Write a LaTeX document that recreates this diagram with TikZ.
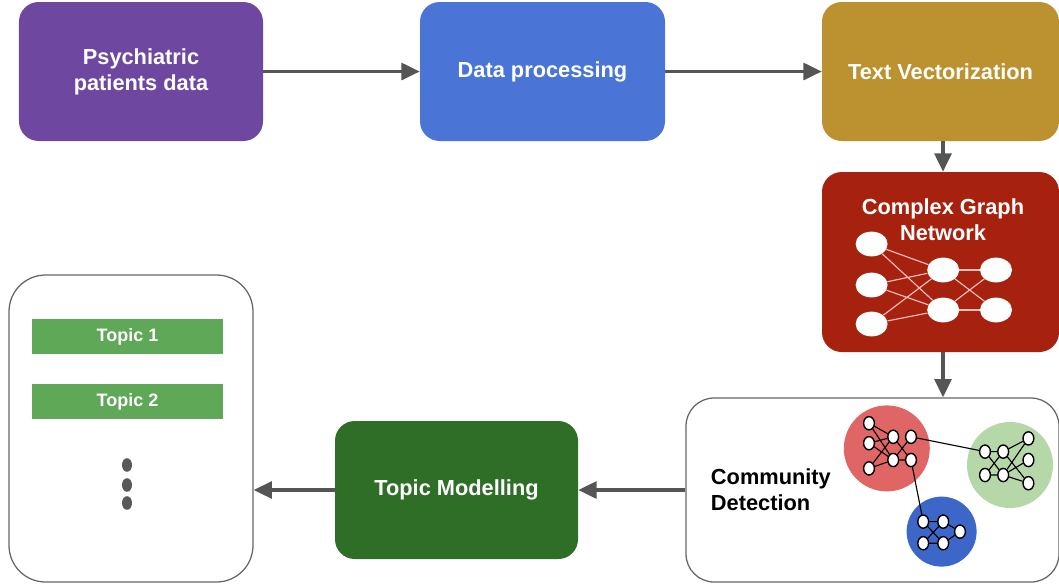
\documentclass[tikz,border=0pt]{standalone}
\usepackage{fontspec}
\setmainfont{Liberation Sans}
\usetikzlibrary{arrows.meta,shapes.geometric}

\definecolor{cpurple}{HTML}{6E47A0}
\definecolor{cblue}{HTML}{4A74D6}
\definecolor{cgold}{HTML}{BC9230}
\definecolor{cdarkred}{HTML}{A6220F}
\definecolor{cdarkgreen}{HTML}{2F6E27}
\definecolor{cbar}{HTML}{5EA857}
\definecolor{cred}{HTML}{E06666}
\definecolor{cgreen}{HTML}{B6D7A8}
\definecolor{cblue2}{HTML}{3C67C9}
\definecolor{carrow}{HTML}{555555}

\begin{document}
\begin{tikzpicture}[
  stagebox/.style={rounded corners=14pt, minimum height=3.475cm, text=white, align=center,
    font=\fontsize{15.5}{18.5}\selectfont\bfseries},
  framebox/.style={draw=black!60, line width=0.9pt, fill=white},
  flow/.style={carrow, line width=2.2pt, -{Triangle[length=13pt,width=12pt]}},
  bignode/.style={ellipse, fill=white, minimum width=0.8cm, minimum height=0.62cm, inner sep=0pt},
  bigedge/.style={draw=red!25!white, line width=0.8pt},
  dot/.style={ellipse, draw=black, line width=1pt, fill=white, minimum width=0.27cm, minimum height=0.33cm, inner sep=0pt},
  topicbar/.style={fill=cbar, minimum width=4.775cm, minimum height=0.875cm, text=white,
    font=\fontsize{12.8}{15}\selectfont\bfseries}
]
\useasboundingbox (0,0) rectangle (26.475,-14.65);
% top row
\node[stagebox, fill=cpurple, minimum width=6.1cm] (pd) at (3.525,-1.7875) {Psychiatric\\patients data};
\node[stagebox, fill=cblue, minimum width=6.125cm] (dp) at (13.5625,-1.7875) {Data processing};
\node[stagebox, fill=cgold, minimum width=5.925cm] (tv) at (23.5125,-1.7875) {Text Vectorization};
% graph network
\node[stagebox, fill=cdarkred, minimum width=5.925cm, minimum height=4.5cm] (cgn) at (23.5125,-6.55) {};
\node[text=white, align=center, font=\fontsize{15.5}{18.5}\selectfont\bfseries] (cgnt) at (23.575,-5.5) {Complex Graph\\Network};
\node[bignode] (l1) at (21.79,-6.1) {};
\node[bignode] (l2) at (21.79,-7.125) {};
\node[bignode] (l3) at (21.79,-8.1) {};
\node[bignode] (m1) at (23.58,-6.75) {};
\node[bignode] (m2) at (23.58,-7.75) {};
\node[bignode] (r1) at (24.9,-6.75) {};
\node[bignode] (r2) at (24.9,-7.75) {};
\foreach \a in {l1,l2,l3}
  \foreach \b in {m1,m2}
    \draw[bigedge] (\a) -- (\b);
\foreach \a in {m1,m2}
  \foreach \b in {r1,r2}
    \draw[bigedge] (\a) -- (\b);
% community detection
\node[framebox, rounded corners=20pt, minimum width=9.325cm, minimum height=4.6cm] (cd) at (21.8125,-12.25) {};
\node[anchor=west, align=left, font=\fontsize{15.5}{18.5}\selectfont\bfseries] (cdt) at (17.65,-12.25) {Community\\Detection};
\fill[cred] (22.17,-11.21) circle (1.075);
\fill[cgreen] (25.25,-11.625) circle (1.075);
\fill[cblue2] (23.54,-13.29) circle (0.875);
% red community
\node[dot] (a1) at (21.725,-10.58) {};
\node[dot] (a2) at (21.725,-11.08) {};
\node[dot] (a3) at (21.725,-11.71) {};
\node[dot] (b1) at (22.33,-10.92) {};
\node[dot] (b2) at (22.33,-11.5) {};
\node[dot] (c1) at (22.775,-10.92) {};
\node[dot] (c2) at (22.775,-11.5) {};
% green community
\node[dot] (g1) at (24.625,-11.29) {};
\node[dot] (g2) at (25.08,-11.29) {};
\node[dot] (g3) at (24.625,-11.875) {};
\node[dot] (g4) at (25.08,-11.875) {};
\node[dot] (g5) at (25.71,-10.96) {};
\node[dot] (g6) at (25.71,-11.5) {};
\node[dot] (g7) at (25.71,-12.08) {};
% blue community
\node[dot] (u1) at (23.08,-13.04) {};
\node[dot] (u2) at (23.58,-13.04) {};
\node[dot] (u3) at (23.08,-13.58) {};
\node[dot] (u4) at (23.58,-13.58) {};
\node[dot] (u5) at (24.0,-13.29) {};
\draw[line width=0.8pt] (a1) -- (b1) (a1) -- (b2) (a2) -- (b1) (a2) -- (b2) (a3) -- (b1) (a3) -- (b2)
  (b1) -- (c2) (b2) -- (c1) (b2) -- (c2)
  (g1) -- (g2) (g3) -- (g4) (g1) -- (g4) (g2) -- (g3) (g2) -- (g5) (g4) -- (g5) (g2) -- (g7) (g4) -- (g6) (g4) -- (g7)
  (u1) -- (u2) (u3) -- (u4) (u1) -- (u4) (u2) -- (u3) (u2) -- (u5) (u4) -- (u5)
  (c1) -- (g1) (c2) -- (u1);
% topic modelling
\node[stagebox, fill=cdarkgreen, minimum width=6.075cm, minimum height=3.45cm] (tm) at (11.4125,-12.25) {Topic Modelling};
% topic list
\node[framebox, rounded corners=26pt, minimum width=6.1cm, minimum height=7.675cm] (tl) at (3.275,-10.7125) {};
\node[topicbar] (t1) at (3.1875,-8.4125) {Topic 1};
\node[topicbar] (t2) at (3.1875,-10.0375) {Topic 2};
\foreach \y/\n in {-11.625/1,-12.125/2,-12.575/3}
  \node[ellipse, fill=black!65, minimum width=0.25cm, minimum height=0.34cm, inner sep=0pt] (d\n) at (3.175,\y) {};
% arrows
\draw[flow] (pd) -- (dp);
\draw[flow] (dp) -- (tv);
\draw[flow] (tv.south -| cgnt) -- (cgn.north -| cgnt);
\draw[flow] (cgn.south -| cgnt) -- (cd.north -| cgnt);
\draw[flow] (cd.west) -- (tm.east);
\draw[flow] (tm.west) -- (tm.west -| tl.east);
\end{tikzpicture}
\end{document}
